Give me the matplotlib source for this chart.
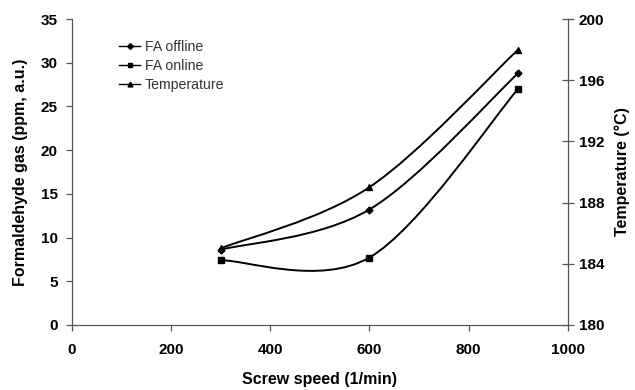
import numpy as np
import matplotlib
matplotlib.use('Agg')
import matplotlib.pyplot as plt
from matplotlib.path import Path
from matplotlib.patches import PathPatch
from matplotlib.lines import Line2D

plt.rcParams['font.family'] = ['Liberation Sans', 'DejaVu Sans']

# data
speed = [300, 600, 900]
fa_offline = [8.6, 13.2, 28.8]
fa_online = [7.4, 7.7, 27.0]
temperature = [185.0, 189.0, 198.0]


def smooth_path(x, y):
    # Excel-style smoothed line: cubic Bezier segments with Catmull-Rom control points
    p = np.column_stack([x, y]).astype(float)
    verts = [p[0]]
    codes = [Path.MOVETO]
    n = len(p)
    for i in range(n - 1):
        prev = p[i - 1] if i > 0 else p[i]
        nxt = p[i + 2] if i + 2 < n else p[i + 1]
        c1 = p[i] + (p[i + 1] - prev) / 6.0
        c2 = p[i + 1] - (nxt - p[i]) / 6.0
        verts += [c1, c2, p[i + 1]]
        codes += [Path.CURVE4] * 3
    return Path(verts, codes)


fig = plt.figure(figsize=(6.35, 3.9), dpi=100)
ax = fig.add_axes([0.113, 0.167, 0.781, 0.784])
ax2 = ax.twinx()

lw = 1.4
for a, x, y, m in [(ax, speed, fa_offline, 'D'), (ax, speed, fa_online, 's'),
                   (ax2, speed, temperature, '^')]:
    a.add_patch(PathPatch(smooth_path(x, y), facecolor='none', edgecolor='black', lw=lw))
    a.plot(x, y, ls='none', marker=m, color='black', ms=3.5 if m == 'D' else 4)

ax.set_xlim(0, 1000)
ax.set_ylim(0, 35)
ax2.set_ylim(180, 200)
ax.set_xticks(range(0, 1001, 200))
ax.set_yticks(range(0, 36, 5))
ax2.set_yticks(range(180, 201, 4))

for s in ['top', 'right']:
    ax.spines[s].set_visible(False)
ax2.spines['top'].set_visible(False)
ax2.spines['left'].set_visible(False)
ax2.spines['bottom'].set_visible(False)
for a in (ax, ax2):
    for s in a.spines.values():
        s.set_color('#555555')
        s.set_linewidth(0.9)

ax.tick_params(axis='both', direction='out', length=4, width=0.9, color='#555555',
               labelsize=11, pad=6)
ax.tick_params(axis='x', pad=9)
ax2.tick_params(axis='y', direction='inout', length=8, width=0.9, color='#555555',
                labelsize=11, pad=4)
for lab in ax.get_xticklabels() + ax.get_yticklabels() + ax2.get_yticklabels():
    lab.set_fontweight('bold')

ax.set_xlabel('Screw speed (1/min)', fontsize=11.5, fontweight='bold', labelpad=11)
ax.set_ylabel('Formaldehyde gas (ppm, a.u.)', fontsize=11.5, fontweight='bold', labelpad=9)
ax2.set_ylabel('Temperature (°C)', fontsize=11.5, fontweight='bold', labelpad=7)

handles = [Line2D([], [], color='black', lw=1, marker='D', ms=3),
           Line2D([], [], color='black', lw=1, marker='s', ms=3.5),
           Line2D([], [], color='black', lw=1, marker='^', ms=3.5)]
ax.legend(handles, ['FA offline', 'FA online', 'Temperature'], loc='upper left',
          bbox_to_anchor=(0.07, 0.975), frameon=False, fontsize=10.2,
          handlelength=1.5, handletextpad=0.3, labelspacing=0.38, labelcolor='#333333')

fig.savefig('out.png', dpi=100)
